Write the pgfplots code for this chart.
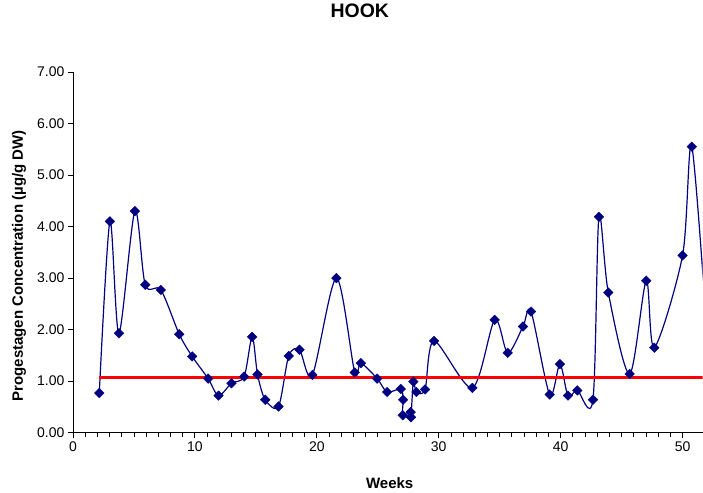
\documentclass[border=0pt]{standalone}
\usepackage{pgfplots}
\pgfplotsset{compat=1.18}
\usepackage{fontspec}
\setmainfont{Liberation Sans}

\definecolor{navyline}{RGB}{0,0,128}
\definecolor{targetred}{RGB}{255,0,0}

\begin{document}
\begin{tikzpicture}[x=1pt,y=1pt]
\begin{axis}[
  scale only axis,
  width=630pt, height=361pt,
  xmin=0, xmax=51.64,
  ymin=0, ymax=7,
  axis lines=left,
  axis line style={-, black, line width=0.9pt},
  tick style={black, line width=0.8pt},
  tick align=outside,
  major tick length=5pt,
  minor tick length=4pt,
  xtick={0,10,20,30,40,50},
  minor x tick num=9,
  ytick={0,1,2,3,4,5,6,7},
  y tick label style={/pgf/number format/.cd, fixed, fixed zerofill, precision=2},
  /pgf/number format/assume math mode=true,
  tick label style={font=\fontsize{14}{16}\selectfont},
  title={HOOK},
  title style={font=\fontsize{19.5}{22}\selectfont\bfseries,
               at={(axis description cs:0.4556,1.133)}, anchor=base},
  xlabel={Weeks},
  xlabel style={font=\fontsize{15}{18}\selectfont\bfseries,
                at={(axis description cs:0.503,-0.155)}, anchor=base},
  ylabel={Progestagen Concentration (µg/g DW)},
  ylabel style={font=\fontsize{15}{18}\selectfont\bfseries,
                at={(axis description cs:-0.0794,0.4626)}, anchor=base},
  clip=true,
]
% weekly progestagen concentration
\addplot[navyline, line width=1.2pt, smooth, tension=0.5] coordinates {
  (2.16,0.77) (3.03,4.10) (3.77,1.93) (5.08,4.30) (5.93,2.87) (7.21,2.77)
  (8.72,1.91) (9.78,1.48) (11.09,1.05) (11.94,0.72) (13.00,0.96) (14.04,1.09)
  (14.70,1.86) (15.14,1.13) (15.77,0.64) (16.86,0.51) (17.70,1.49) (18.58,1.61)
  (19.64,1.12) (21.61,3.00) (23.11,1.17) (23.61,1.35) (24.95,1.05) (25.77,0.79)
  (26.89,0.85) (27.08,0.64) (27.05,0.34) (27.70,0.40) (27.73,0.30) (27.92,0.99)
  (28.17,0.79) (28.88,0.84) (29.62,1.78) (32.76,0.87) (34.59,2.19) (35.66,1.55)
  (36.91,2.06) (37.57,2.35) (39.10,0.74) (39.94,1.33) (40.60,0.72) (41.37,0.82)
  (42.65,0.64) (43.14,4.19) (43.91,2.72) (45.66,1.14) (47.02,2.95) (47.68,1.65)
  (50.00,3.44) (50.76,5.55) (52.10,1.60)
};
% threshold level
\addplot[targetred, line width=3pt] coordinates {(2.16,1.08) (53,1.08)};
% data points
\addplot[only marks, mark=square*, mark size=3.4pt,
         mark options={rotate=45, fill=navyline, draw=navyline}] coordinates {
  (2.16,0.77) (3.03,4.10) (3.77,1.93) (5.08,4.30) (5.93,2.87) (7.21,2.77)
  (8.72,1.91) (9.78,1.48) (11.09,1.05) (11.94,0.72) (13.00,0.96) (14.04,1.09)
  (14.70,1.86) (15.14,1.13) (15.77,0.64) (16.86,0.51) (17.70,1.49) (18.58,1.61)
  (19.64,1.12) (21.61,3.00) (23.11,1.17) (23.61,1.35) (24.95,1.05) (25.77,0.79)
  (26.89,0.85) (27.08,0.64) (27.05,0.34) (27.70,0.40) (27.73,0.30) (27.92,0.99)
  (28.17,0.79) (28.88,0.84) (29.62,1.78) (32.76,0.87) (34.59,2.19) (35.66,1.55)
  (36.91,2.06) (37.57,2.35) (39.10,0.74) (39.94,1.33) (40.60,0.72) (41.37,0.82)
  (42.65,0.64) (43.14,4.19) (43.91,2.72) (45.66,1.14) (47.02,2.95) (47.68,1.65)
  (50.00,3.44) (50.76,5.55)
};
\coordinate (boxsw) at (rel axis cs:0,0);
\coordinate (boxne) at (rel axis cs:1,1);
\end{axis}
% page frame around the plot and its descriptions
\path[draw=none] ([shift={(-73pt,-60pt)}]boxsw) rectangle ([shift={(0pt,72pt)}]boxne);
\end{tikzpicture}
\end{document}
